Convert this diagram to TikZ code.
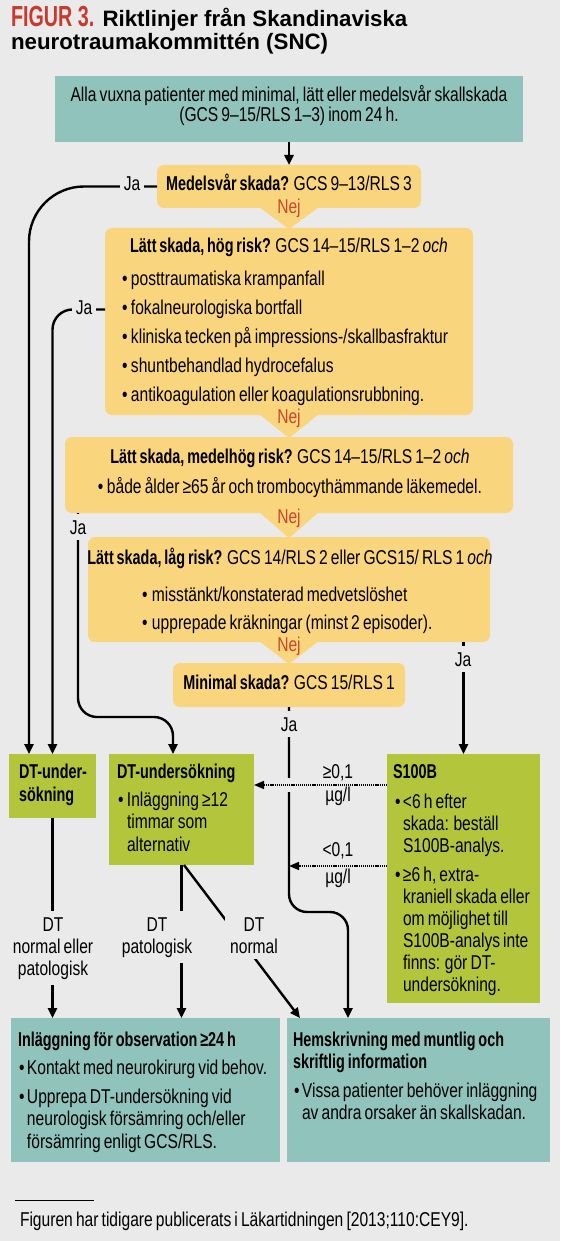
\documentclass[tikz,border=0pt]{standalone}
\usepackage{fontspec}
\setmainfont{Liberation Sans}
\newfontfamily\condfam{Liberation Sans}[FakeStretch=0.78, WordSpace=0.72]
\newfontfamily\condbfam{Liberation Sans}[FakeStretch=0.72, WordSpace=0.72]
\newfontfamily\titlefam{Liberation Sans}[FakeStretch=1.0]
\newfontfamily\figfam{Liberation Sans}[FakeStretch=0.68]
\usetikzlibrary{arrows.meta}
\definecolor{bgc}{HTML}{EAEAEA}
\definecolor{tealc}{HTML}{8FC3BC}
\definecolor{yelc}{HTML}{F9D57D}
\definecolor{grnc}{HTML}{B3C63B}
\definecolor{nejred}{HTML}{C9472A}
\definecolor{figred}{HTML}{C73A2E}
\newcommand\myrg{\condfam\mdseries\upshape}
\newcommand\mybd{\condbfam\bfseries}
\newcommand\myit{\condfam\itshape}
\newcommand\mybul[1][9pt]{\makebox[#1][l]{•}}
\newcommand\fixsp{\spaceskip=0pt\relax\xspaceskip=0pt\relax}
\begin{document}
\begin{tikzpicture}[x=1pt,y=-1pt,
  every node/.style={inner sep=0pt, outer sep=0pt, execute at begin node=\fixsp},
  tealbox/.style={fill=tealc, anchor=north west},
  yelbox/.style={fill=yelc, rounded corners=7pt, anchor=north west},
  grnbox/.style={fill=grnc, anchor=north west},
  tx/.style={anchor=base west, align=flush left, text width=#1},
  tc/.style={anchor=base, align=flush center, text width=#1},
  conn/.style={line width=2.4pt, black},
  arr/.style={conn, -{Triangle[length=10pt,width=9pt]}},
  dotarr/.style={line width=1.6pt, dash pattern=on 1.2pt off 0.9pt, -{Triangle[length=10pt,width=8pt]}},
  jalab/.style={fill=bgc, inner xsep=4pt, inner ysep=6pt, anchor=base, font=\myrg\fontsize{20}{22}\selectfont},
  dtlab/.style={fill=bgc, inner xsep=3pt, inner ysep=6pt, anchor=base, align=flush center, text width=#1, font=\myrg\fontsize{20}{22}\selectfont},
  nej/.style={anchor=base, text=nejred, font=\myrg\fontsize{20}{22}\selectfont},
  reg/.style={font=\myrg\fontsize{20}{#1}\selectfont},
  bld/.style={font=\mybd\fontsize{20}{#1}\selectfont}
]
\path[use as bounding box, fill=bgc] (0,0) rectangle (560,1241);

% title
\node[tx=548pt, font=\titlefam\bfseries\fontsize{22.3}{23}\selectfont] (title) at (11,27)
  {{\figfam\bfseries\fontsize{29}{23}\selectfont\color{figred}FIGUR 3.} Riktlinjer från Skandinaviska\\neurotraumakommittén (SNC)};

% boxes
\node[tealbox, minimum width=468pt, minimum height=66pt] (top) at (55,76) {};
\node[yelbox, minimum width=264pt, minimum height=43pt] (med) at (157,165) {};
\node[yelbox, minimum width=368pt, minimum height=187pt] (b2) at (105,228) {};
\node[yelbox, minimum width=448pt, minimum height=76pt] (b3) at (65,437) {};
\node[yelbox, minimum width=402pt, minimum height=105pt] (b4) at (88,537) {};
\node[yelbox, minimum width=232pt, minimum height=44pt] (mini) at (173,663) {};
\node[grnbox, minimum width=87pt, minimum height=64pt] (dtl) at (9,754) {};
\node[grnbox, minimum width=145pt, minimum height=111pt] (dt2) at (109,754) {};
\node[grnbox, minimum width=153pt, minimum height=249pt] (s100) at (387,754) {};
\node[tealbox, minimum width=269pt, minimum height=144pt] (obs) at (11,1018) {};
\node[tealbox, minimum width=263pt, minimum height=144pt] (hem) at (287,1018) {};

% pointers between yellow boxes
\fill[yelc] ([xshift=-30pt,yshift=1pt]med.south) -- ([xshift=30pt,yshift=1pt]med.south) -- ([yshift=-1pt]b2.north) -- cycle;
\fill[yelc] ([xshift=-30pt,yshift=1pt]b2.south) -- ([xshift=30pt,yshift=1pt]b2.south) -- ([yshift=-1pt]b3.north) -- cycle;
\fill[yelc] ([xshift=-30pt,yshift=1pt]b3.south) -- ([xshift=30pt,yshift=1pt]b3.south) -- ([yshift=-1pt]b4.north) -- cycle;
\fill[yelc] ([xshift=-30pt,yshift=1pt]b4.south) -- ([xshift=30pt,yshift=1pt]b4.south) -- ([yshift=-1pt]mini.north) -- cycle;

% texts
\node[tc=500pt, reg=20] (toptxt) at (289,102)
  {Alla vuxna patienter med minimal, lätt eller medelsvår skallskada\\(GCS 9–15/RLS 1–3) inom 24 h.};
\node[anchor=base, reg=22] (medtxt) at (289,191) {{\mybd Medelsvår skada?} GCS 9–13/RLS 3};
\node[nej] (nej1) at (289,214) {Nej};
\node[anchor=base, reg=22] (b2t) at (289,253) {{\mybd Lätt skada, hög risk?} GCS 14–15/RLS 1–2 {\myit och}};
\node[tx=420pt, reg=29] (b2b) at (122,285)
  {\mybul posttraumatiska krampanfall\\
   \mybul fokalneurologiska bortfall\\
   \mybul kliniska tecken på impressions-/skallbasfraktur\\
   \mybul shuntbehandlad hydrocefalus\\
   \mybul antikoagulation eller koagulationsrubbning.};
\node[nej] (nej2) at (289,423) {Nej};
\node[anchor=base, reg=22] (b3t) at (290,463) {{\mybd Lätt skada, medelhög risk?} GCS 14–15/RLS 1–2 {\myit och}};
\node[anchor=base, reg=22] (b3b) at (290,493) {\mybul både ålder ≥65 år och trombocythämmande läkemedel.};
\node[nej] (nej3) at (289,523) {Nej};
\node[anchor=base, reg=22] (b4t) at (290,564) {{\mybd Lätt skada, låg risk?} GCS 14/RLS 2 eller GCS15/ RLS 1 {\myit och}};
\node[tx=400pt, reg=28] (b4b) at (142,601)
  {\mybul[10pt]misstänkt/konstaterad medvetslöshet\\
   \mybul[10pt]upprepade kräkningar (minst 2 episoder).};
\node[nej] (nej4) at (289,651) {Nej};
\node[anchor=base, reg=22] (minitxt) at (289,689) {{\mybd Minimal skada?} GCS 15/RLS 1};

\node[tx=150pt, bld=23] (dtltxt) at (19,778) {DT-under-\\sökning};
\node[anchor=base west, bld=22] (dt2t) at (117,778) {DT-undersökning};
\node[tx=200pt, reg=22.5] (dt2b) at (118,806)
  {\mybul Inläggning ≥12\\\hspace*{9pt}timmar som\\\hspace*{9pt}alternativ};
\node[anchor=base west, bld=22] (s100t) at (393,778) {S100B};
\node[tx=200pt, reg=22] (s100b) at (395,808)
  {\mybul[8pt]<6 h efter\\\hspace*{8pt}skada: beställ\\\hspace*{8pt}S100B-analys.\\[7pt]
   \mybul[8pt]≥6 h, extra-\\\hspace*{8pt}kraniell skada eller\\\hspace*{8pt}om möjlighet till\\
   \hspace*{8pt}S100B-analys inte\\\hspace*{8pt}finns: gör DT-\\\hspace*{8pt}undersökning.};

\node[anchor=base west, bld=22] (obst) at (18,1046) {Inläggning för observation ≥24 h};
\node[tx=400pt, reg=22.5] (obsb) at (19,1074)
  {\mybul[8pt]Kontakt med neurokirurg vid behov.\\[6.5pt]
   \mybul[8pt]Upprepa DT-undersökning vid\\\hspace*{8pt}neurologisk försämring och/eller\\\hspace*{8pt}försämring enligt GCS/RLS.};
\node[tx=400pt, bld=22] (hemt) at (293,1046) {Hemskrivning med muntlig och\\skriftlig information};
\node[tx=400pt, reg=22] (hemb) at (294,1097)
  {\mybul[8pt]Vissa patienter behöver inläggning\\\hspace*{8pt}av andra orsaker än skallskadan.};

% footnote
\draw[line width=0.9pt] (15,1200) -- (94,1200);
\node[anchor=base west, reg=22] (foot) at (20,1226) {Figuren har tidigare publicerats i Läkartidningen [2013;110:CEY9].};

% connectors
\coordinate (ja3turn) at (173,717);
\coordinate (ja5turn) at (348,912);
\coordinate (vhit) at (289,866);
\draw[arr] (top.south) -- (med.north);
\draw[arr, rounded corners=55pt] (med.west) -| ([xshift=20pt]dtl.north west);
\draw[arr, rounded corners=20pt] ([yshift=12pt]b2.west) -| (dtl.north);
\draw[arr, rounded corners=19pt] ([xshift=13pt]b3.south west) |- (ja3turn) -- ([xshift=64pt]dt2.north west);
\draw[arr] (b4.south -| s100.north) -- (s100.north);
\draw[arr, rounded corners=18pt] (mini.south) |- (ja5turn) -- ([xshift=61pt]hem.north west);
\draw[arr] (dtl.south) -- (dtl.south |- obs.north);
\draw[arr] (dt2.south) -- (dt2.south |- obs.north);
\draw[arr] ([xshift=75pt]dt2.south west) -- ([xshift=13pt]hem.north west);

% dotted S100B arrows
\draw[bgc, line width=14pt] (s100.west |- 0,785) -- (dt2.east |- 0,785);
\draw[dotarr] (s100.west |- 0,785) -- (dt2.east |- 0,785);
\draw[dotarr] (s100.west |- vhit) -- (vhit);
\node[tc=44pt, reg=23] (thr1) at (338,778) {≥0,1\\µg/l};
\node[tc=44pt, reg=27] (thr2) at (338,856) {<0,1\\µg/l};

% labels on connectors
\node[jalab] (ja1) at (132,191) {Ja};
\node[jalab] (ja2) at (84,314) {Ja};
\node[jalab] (ja3) at (78,534) {Ja};
\node[jalab] (ja4) at (463,666) {Ja};
\node[jalab] (ja5) at (289,731) {Ja};
\node[dtlab=96pt] (lab1) at (53,931) {DT\\normal eller\\patologisk};
\node[dtlab=72pt] (lab2) at (157,931) {DT\\patologisk};
\node[dtlab=52pt] (lab3) at (254,931) {DT\\normal};
\end{tikzpicture}
\end{document}
